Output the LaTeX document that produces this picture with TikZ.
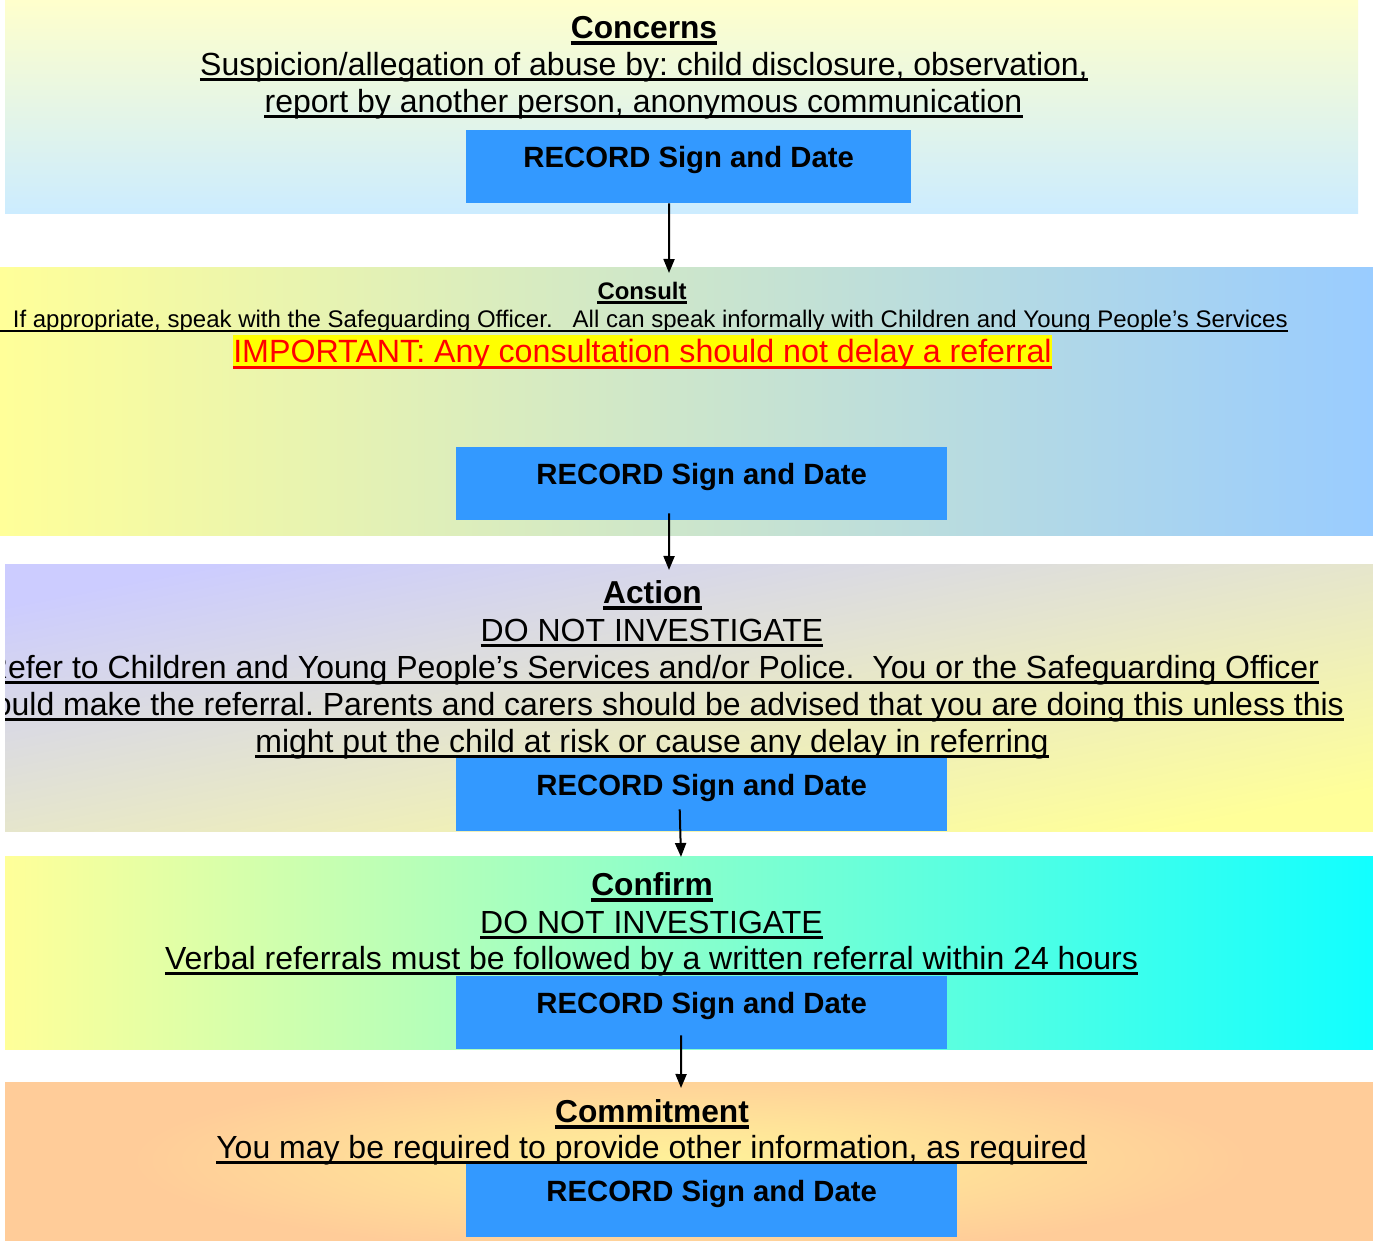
\documentclass[tikz,border=0pt]{standalone}
\usepackage{fontspec}
\setmainfont{Liberation Sans}
\usetikzlibrary{arrows.meta,calc}
\definecolor{recblue}{HTML}{3399FF}
\definecolor{ponetop}{HTML}{FFFFCC}
\definecolor{ponebot}{HTML}{CCECFF}
\definecolor{paleyel}{HTML}{FFFF99}
\definecolor{paleblue}{HTML}{99CCFF}
\definecolor{lavend}{HTML}{CCCCFF}
\definecolor{palegreen}{HTML}{CCFFCC}
\definecolor{brightcyan}{HTML}{11FFFF}
\definecolor{peach}{HTML}{FFCC99}
\definecolor{lightyel}{HTML}{FFF299}
\definecolor{hiyel}{HTML}{FFFF00}
\definecolor{hired}{HTML}{FF0000}
\newcommand\ulin[3]{\draw[line width=#3] ([yshift=-#2]#1.base west) -- ([yshift=-#2]#1.base east);}
\frenchspacing
\begin{document}
\begin{tikzpicture}[x=1pt,y=-1pt,
  body/.style={anchor=base, inner sep=0pt, font=\fontsize{32}{37}\selectfont},
  small/.style={anchor=base, inner sep=0pt, font=\fontsize{24}{28}\selectfont},
  title/.style={anchor=base, inner sep=0pt, font=\fontsize{31.7}{37}\selectfont\bfseries},
  recbox/.style={fill=recblue, inner sep=0pt, anchor=north west, align=center,
    text height=37.7pt, text depth=35.3pt, font=\fontsize{29.3}{34}\selectfont\bfseries},
  arr/.style={line width=2pt, -{Triangle[length=14pt,width=11pt]}}]
\useasboundingbox (0,0) rectangle (1373,1241);
\fill[white] (0,0) rectangle (1373,1241);
\coordinate (lft) at (0,0);
\begin{scope}
\clip (0,0) rectangle (1373,1241);
% panels
\shade[top color=ponetop, bottom color=ponebot] (5,0) rectangle (1358,213.5);
\shade[left color=paleyel, right color=paleblue] (0,268) rectangle (1373,535);
\shade[top color=lavend, bottom color=paleyel, shading angle=11] (5,564) rectangle (1373,831);
\shade[left color=paleyel, middle color=palegreen, right color=brightcyan] (5,856) rectangle (1373,1049);
\fill[peach] (5,1082) rectangle (1373,1241);
\begin{scope}
\clip (5,1082) rectangle (1373,1241);
\shade[inner color=lightyel, outer color=peach] (690,1160) ellipse [x radius=560, y radius=95];
\end{scope}

% panel 1 text
\node[title] (t1) at (644,38.5) {Concerns};
\node[body] (t1a) at (644,76) {Suspicion/allegation of abuse by: child disclosure, observation,};
\node[body] (t1b) at (643.5,113) {report by another person, anonymous communication};
\ulin{t1}{4.5pt}{3.3pt}
\ulin{t1a}{4pt}{3pt}
\ulin{t1b}{4pt}{3pt}

% panel 2 text
\node[title, font=\fontsize{23.9}{28}\selectfont\bfseries] (t2) at (642,299.3) {Consult};
\node[small, anchor=base east] (t2a) at (1288,327.3) {If appropriate, speak with the Safeguarding Officer.\ \ \ All can speak informally with Children and Young People’s Services};
\node[body, font=\fontsize{32.2}{37}\selectfont, fill=hiyel, text=hired, text height=27pt, text depth=4pt] (t2b) at (642.5,362) {IMPORTANT: Any consultation should not delay a referral};
\ulin{t2}{3.4pt}{2.5pt}
\draw[line width=2pt] ([yshift=-3.4pt]t2a.base east) -- ([yshift=-3.4pt]t2a.base east -| lft);
\draw[line width=3pt, hired] ([yshift=-5.7pt]t2b.base west) -- ([yshift=-5.7pt]t2b.base east);

% panel 3 text
\begin{scope}
\clip (5,564) rectangle (1373,831);
\node[title] (t3) at (652.5,603.5) {Action};
\node[body] (t3a) at (652,641) {DO NOT INVESTIGATE};
\node[body] (t3b) at (652,678.3) {Refer to Children and Young People’s Services and/or Police.\ \ You or the Safeguarding Officer};
\node[body] (t3c) at (652,715) {should make the referral. Parents and carers should be advised that you are doing this unless this};
\node[body] (t3d) at (652,752) {might put the child at risk or cause any delay in referring};
\ulin{t3}{4.5pt}{3.3pt}
\ulin{t3a}{4pt}{3pt}
\ulin{t3b}{4pt}{3pt}
\ulin{t3c}{4pt}{3pt}
\ulin{t3d}{4pt}{3pt}
\end{scope}

% panel 4 text
\node[title] (t4) at (652,895.5) {Confirm};
\node[body] (t4a) at (651.5,933) {DO NOT INVESTIGATE};
\node[body] (t4b) at (651.5,969.5) {Verbal referrals must be followed by a written referral within 24 hours};
\ulin{t4}{4.5pt}{3.3pt}
\ulin{t4a}{4pt}{3pt}
\ulin{t4b}{4pt}{3pt}

% panel 5 text
\node[title] (t5) at (652,1122.5) {Commitment};
\node[body] (t5a) at (651.5,1158.5) {You may be required to provide other information, as required};
\ulin{t5}{4.5pt}{3.3pt}
\ulin{t5a}{4pt}{3pt}

% record boxes
\node[recbox, minimum width=445pt] (b1) at (466,130) {RECORD Sign and Date};
\node[recbox, minimum width=491pt] (b2) at (456,447) {RECORD Sign and Date};
\node[recbox, minimum width=491pt] (b3) at (456,758) {RECORD Sign and Date};
\node[recbox, minimum width=491pt] (b4) at (456,976) {RECORD Sign and Date};
\node[recbox, minimum width=491pt] (b5) at (466,1164) {RECORD Sign and Date};

% connectors
\coordinate (a1e) at (669,273);
\coordinate (a2e) at (669,570);
\coordinate (a3e) at (681,857);
\coordinate (a4e) at (681,1088);
\draw[arr] ([xshift=-19.5pt]b1.south) -- (a1e);
\draw[arr] ([xshift=-32.5pt,yshift=7pt]b2.south) -- (a2e);
\draw[arr] ([xshift=-22pt,yshift=22pt]b3.south) -- (a3e);
\draw[arr] ([xshift=-20.5pt,yshift=14pt]b4.south) -- (a4e);
\end{scope}
\end{tikzpicture}
\end{document}
